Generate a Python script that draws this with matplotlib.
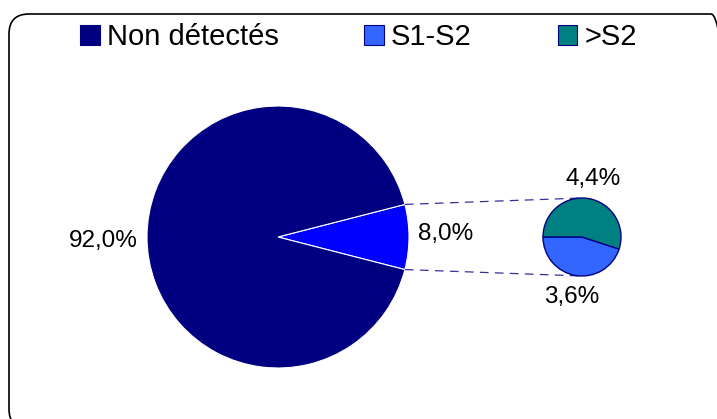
import matplotlib.pyplot as plt
from matplotlib.patches import Patch, FancyBboxPatch
import numpy as np

plt.rcParams['font.family'] = ['Liberation Sans', 'DejaVu Sans']

# Données
categories = ['Non détectés', 'S1-S2', '>S2']
main_values = [8.0, 92.0]          # part détaillée, non détectés
main_labels = ['8,0%', '92,0%']
sub_values = [3.6, 4.4]            # S1-S2, >S2
sub_labels = ['3,6%', '4,4%']

c_navy = '#000080'
c_blue = '#0000FF'
c_s1 = '#3366FF'
c_s2 = '#008080'

W, H = 717, 419
fig = plt.figure(figsize=(W / 100, H / 100), dpi=100)
ax = fig.add_axes([0, 0, 1, 1])

# Camembert principal
c1 = (278, H - 237)
r1 = 131
half = 360 * main_values[0] / sum(main_values) / 2
ax.pie(main_values, colors=[c_blue, c_navy], center=c1, radius=r1,
       startangle=-half, counterclock=True,
       wedgeprops=dict(edgecolor='white', linewidth=0.8))

# Camembert secondaire
c2 = (582, H - 237)
r2 = 39
ax.pie(sub_values, colors=[c_s1, c_s2], center=c2, radius=r2,
       startangle=180, counterclock=True,
       wedgeprops=dict(edgecolor=c_navy, linewidth=1.0))

# Lignes de liaison
a = np.deg2rad(half)
for s in (1, -1):
    x0 = c1[0] + r1 * np.cos(a)
    y0 = c1[1] + s * r1 * np.sin(a)
    ax.plot([x0, c2[0]], [y0, c2[1] + s * r2], color=c_navy, lw=0.9,
            dashes=(7, 5), alpha=0.8)

# Étiquettes
fs = 17.5
ax.text(c1[0] - 1.33 * r1, c1[1] - 4, main_labels[1], fontsize=fs,
        ha='center', va='center')
ax.text(c1[0] + 1.28 * r1, c1[1] + 3, main_labels[0], fontsize=fs,
        ha='center', va='center')
ax.text(c2[0] + 11, c2[1] + 1.5 * r2, sub_labels[1], fontsize=fs,
        ha='center', va='center')
ax.text(c2[0] - 10, c2[1] - 1.54 * r2, sub_labels[0], fontsize=fs,
        ha='center', va='center')

# Légende
handles = [Patch(facecolor=c, edgecolor=c_navy, linewidth=0.8)
           for c in (c_navy, c_s1, c_s2)]
ax.legend(handles, categories, ncol=3, frameon=False, fontsize=21,
          loc='center left', bbox_to_anchor=(80 / W, 1 - 37 / H),
          handlelength=0.67, handleheight=0.67, handletextpad=0.24,
          columnspacing=2.95, borderpad=0, borderaxespad=0)

# Cadre arrondi (bord droit hors image)
ax.add_patch(FancyBboxPatch((9, -10), 722, H - 14 + 10,
                            boxstyle='round,pad=0,rounding_size=20',
                            facecolor='none', edgecolor='black', lw=1.2,
                            clip_on=False))

ax.set_xlim(0, W)
ax.set_ylim(0, H)
ax.set_aspect('equal')
ax.axis('off')

fig.savefig('out.png', dpi=100)
